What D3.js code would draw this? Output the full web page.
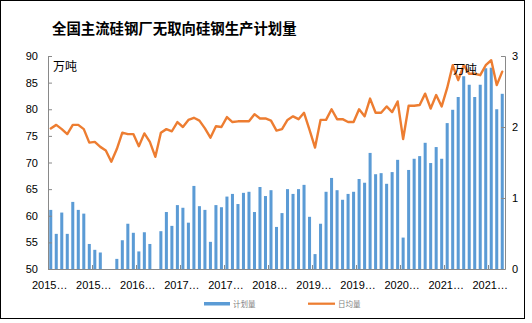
<!DOCTYPE html>
<html>
<head>
<meta charset="utf-8">
<script src="https://cdn.jsdelivr.net/npm/d3@7/dist/d3.min.js"></script>
<style>
  html, body { margin: 0; padding: 0; background: #fff; }
  svg { display: block; }
</style>
</head>
<body>
<svg id="chart" width="532" height="323"></svg>
<script>
// Monthly production plan (万吨) and daily average output (万吨), 2015-01 … 2021-11
const categories = d3.timeMonth
  .range(new Date(2015, 0, 1), new Date(2021, 11, 1))
  .map(d3.timeFormat("%Y-%m"));

const planValues = [
  61.1, 56.6, 60.6, 56.6, 62.6, 61.1, 60.4, 54.7, 53.6, 53.1,
  null, null, 51.9, 55.4, 58.5, 56.8, 53.3, 56.9, 54.7, null,
  57.1, 60.7, 58.1, 62.0, 61.5, 58.7, 65.6, 61.8, 61.1, 55.1,
  62.0, 61.6, 63.6, 64.1, 62.2, 64.3, 64.5, 60.7, 65.4, 63.7,
  64.8, 57.9, 60.5, 65.0, 64.1, 65.0, 65.8, 59.8, 52.8, 58.5,
  64.5, 67.1, 64.8, 63.0, 64.1, 64.5, 66.9, 66.2, 71.8, 67.8,
  68.0, 66.0, 68.2, 70.5, 55.9, 68.6, 70.7, 71.2, 73.7, 69.9,
  72.9, 70.7, 77.4, 79.9, 82.3, 86.2, 84.6, 82.3, 84.6, 87.7,
  87.8, 80.0, 82.9
];

const dailyValues = [
  1.98, 2.03, 1.97, 1.90, 2.03, 2.03, 1.97, 1.78, 1.79, 1.72,
  1.67, 1.51, 1.69, 1.92, 1.90, 1.90, 1.73, 1.91, 1.79, 1.58,
  1.92, 1.97, 1.94, 2.07, 2.00, 2.10, 2.13, 2.09, 1.98, 1.85,
  2.01, 2.00, 2.14, 2.07, 2.08, 2.08, 2.08, 2.18, 2.12, 2.12,
  2.09, 1.95, 1.97, 2.10, 2.15, 2.11, 2.20, 1.96, 1.71, 2.10,
  2.10, 2.25, 2.11, 2.11, 2.07, 2.07, 2.25, 2.15, 2.40, 2.20,
  2.20, 2.29, 2.21, 2.36, 1.83, 2.30, 2.30, 2.31, 2.47, 2.26,
  2.45, 2.29, 2.55, 2.87, 2.66, 2.87, 2.75, 2.75, 2.73, 2.87,
  2.94, 2.59, 2.78
];

// Category labels shown every 8 months (truncated by the axis)
const xTickLabels = ["2015-01", "2015-09", "2016-05", "2017-01", "2017-09", "2018-05",
                     "2019-01", "2019-09", "2020-05", "2021-01", "2021-09"];
const leftTicks = [50, 55, 60, 65, 70, 75, 80, 85, 90];
const rightTicks = [0, 1, 2, 3];

const title = "全国主流硅钢厂无取向硅钢生产计划量";
const unitLabel = "万吨";
const seriesNames = ["计划量", "日均量"];

const BLUE = "#5B9BD5";
const ORANGE = "#ED7D31";
const AXIS = "#898989";

const svg = d3.select("#chart");
const plot = { left: 48, right: 505, top: 56, bottom: 269 };

// outer frame
svg.append("rect")
  .attr("x", 0.5).attr("y", 0.5)
  .attr("width", 524).attr("height", 318)
  .attr("fill", "#fff").attr("stroke", "#000").attr("stroke-width", 1);

svg.append("text")
  .attr("x", 52).attr("y", 33.5)
  .attr("font-family", "'Noto Sans CJK SC', sans-serif")
  .attr("font-weight", 700)
  .attr("font-size", 14.4)
  .attr("fill", "#000")
  .text(title);

const x = d3.scaleBand()
  .domain(categories)
  .range([plot.left, plot.right])
  .paddingInner(0.45)
  .paddingOuter(0.225);

const yL = d3.scaleLinear().domain([50, 90]).range([plot.bottom, plot.top]);
const yR = d3.scaleLinear().domain([0, 3]).range([plot.bottom, plot.top]);

// bars
svg.append("g")
  .selectAll("rect")
  .data(planValues.map((v, i) => ({ c: categories[i], v })).filter(d => d.v != null))
  .join("rect")
  .attr("x", d => x(d.c))
  .attr("width", x.bandwidth())
  .attr("y", d => yL(d.v))
  .attr("height", d => yL(50) - yL(d.v))
  .attr("fill", BLUE);

// daily average line
const line = d3.line()
  .x((d, i) => x(categories[i]) + x.bandwidth() / 2)
  .y(d => yR(d));

svg.append("path")
  .datum(dailyValues)
  .attr("d", line)
  .attr("fill", "none")
  .attr("stroke", ORANGE)
  .attr("stroke-width", 2.4)
  .attr("stroke-linejoin", "round")
  .attr("stroke-linecap", "round");

const tickFont = "'Liberation Sans', Arial, sans-serif";

function styleAxis(g) {
  g.selectAll(".domain").attr("stroke", AXIS);
  g.selectAll(".tick line").attr("stroke", AXIS);
  g.selectAll(".tick text")
    .attr("fill", "#000")
    .attr("font-family", tickFont)
    .attr("font-size", 11);
}

// left axis
svg.append("g")
  .attr("transform", `translate(${plot.left},0)`)
  .call(d3.axisLeft(yL).tickValues(leftTicks).tickSizeInner(-4).tickSizeOuter(-4).tickPadding(10))
  .call(styleAxis);

// right axis
svg.append("g")
  .attr("transform", `translate(${plot.right},0)`)
  .call(d3.axisRight(yR).tickValues(rightTicks).tickFormat(d3.format("d")).tickSizeInner(-4).tickSizeOuter(-4).tickPadding(7))
  .call(styleAxis);

// category axis: boundary ticks every 8 months, inward
const bx = d3.scaleLinear().domain([0, categories.length]).range([plot.left, plot.right]);
const xAxisG = svg.append("g");
xAxisG.append("line")
  .attr("x1", plot.left).attr("x2", plot.right)
  .attr("y1", plot.bottom + 0.5).attr("y2", plot.bottom + 0.5)
  .attr("stroke", AXIS);
xAxisG.selectAll("line.t")
  .data(d3.range(0, categories.length + 1, 8).concat([categories.length]))
  .join("line")
  .attr("class", "t")
  .attr("x1", d => Math.round(bx(d)) + 0.5).attr("x2", d => Math.round(bx(d)) + 0.5)
  .attr("y1", plot.bottom).attr("y2", plot.bottom - 4)
  .attr("stroke", AXIS);

xAxisG.selectAll("text")
  .data(xTickLabels)
  .join("text")
  .attr("x", d => x(d) + x.bandwidth() / 2 - 1)
  .attr("y", 288.5)
  .attr("text-anchor", "middle")
  .attr("font-family", tickFont)
  .attr("font-size", 11)
  .attr("fill", "#000")
  .text(d => d.slice(0, 4) + "…");

// unit labels
const unitFont = "'Noto Sans CJK SC', sans-serif";
svg.append("text").attr("x", 53).attr("y", 70.5)
  .attr("font-family", unitFont).attr("font-size", 12).attr("fill", "#000").text(unitLabel);
svg.append("text").attr("x", 453).attr("y", 73.5)
  .attr("font-family", unitFont).attr("font-size", 12).attr("fill", "#000").text(unitLabel);

// legend
const legend = svg.append("g")
  .attr("font-family", unitFont).attr("font-size", 7.5).attr("fill", "#7f7f7f");
legend.append("rect").attr("x", 204).attr("y", 302).attr("width", 26).attr("height", 3.5).attr("fill", BLUE);
legend.append("text").attr("x", 233).attr("y", 306.5).text(seriesNames[0]);
legend.append("line").attr("x1", 308).attr("x2", 335).attr("y1", 303.7).attr("y2", 303.7)
  .attr("stroke", ORANGE).attr("stroke-width", 2.25);
legend.append("text").attr("x", 338).attr("y", 306.5).text(seriesNames[1]);
</script>
</body>
</html>
